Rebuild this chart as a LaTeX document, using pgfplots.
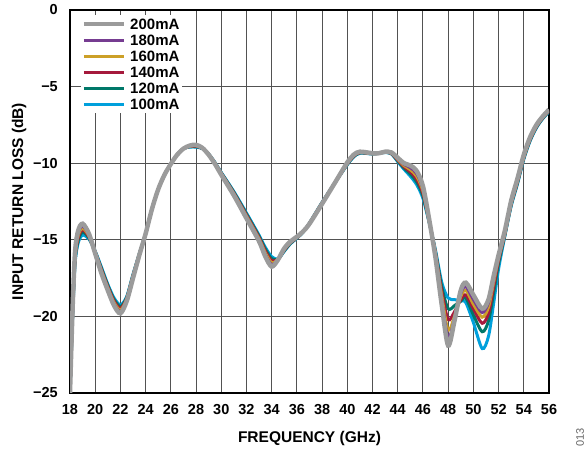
\documentclass[border=0pt]{standalone}
\usepackage{pgfplots}
\pgfplotsset{compat=1.18}
\usepackage{pgfplotstable}
\usepackage{fontspec}
\setmainfont{Liberation Sans}
\definecolor{c200}{RGB}{155,155,155}
\definecolor{c180}{RGB}{118,60,145}
\definecolor{c160}{RGB}{204,160,40}
\definecolor{c140}{RGB}{165,25,60}
\definecolor{c120}{RGB}{0,120,105}
\definecolor{c100}{RGB}{0,160,220}
\pgfplotstableread{
f a200 a180 a160 a140 a120 a100
18.0 -25 -25 -25 -25 -25 -25
18.2 -19.6 -19.72 -19.84 -19.96 -20.08 -20.2
18.4 -15.8 -15.96 -16.12 -16.28 -16.44 -16.6
18.65 -14.4 -14.56 -14.72 -14.88 -15.04 -15.2
19.0 -13.95 -14.1 -14.25 -14.35 -14.5 -14.7
19.5 -14.6 -14.67 -14.74 -14.81 -14.88 -14.95
20.0 -15.9 -15.87 -15.84 -15.81 -15.78 -15.75
20.5 -17.2 -17.12 -17.04 -16.96 -16.88 -16.8
21.0 -18.3 -18.22 -18.14 -18.06 -17.98 -17.9
21.5 -19.3 -19.2 -19.1 -19.0 -18.9 -18.8
22.0 -19.8 -19.69 -19.58 -19.47 -19.36 -19.25
22.5 -19.0 -18.94 -18.88 -18.82 -18.76 -18.7
23.0 -17.5 -17.45 -17.4 -17.35 -17.3 -17.25
23.5 -16.0 -15.98 -15.96 -15.94 -15.92 -15.9
24.0 -14.6 -14.6 -14.6 -14.6 -14.6 -14.6
24.5 -13.0 -13.0 -13.0 -13.0 -13.0 -13.0
25.0 -11.7 -11.7 -11.7 -11.7 -11.7 -11.7
25.5 -10.75 -10.75 -10.75 -10.75 -10.75 -10.75
26.0 -10.05 -10.05 -10.05 -10.05 -10.05 -10.05
26.5 -9.45 -9.45 -9.45 -9.45 -9.45 -9.45
27.0 -9.05 -9.05 -9.05 -9.05 -9.05 -9.05
27.5 -8.85 -8.87 -8.89 -8.91 -8.93 -8.95
28.0 -8.8 -8.83 -8.86 -8.89 -8.92 -8.95
28.5 -9.0 -9.01 -9.02 -9.03 -9.04 -9.05
29.0 -9.45 -9.44 -9.43 -9.42 -9.41 -9.4
29.5 -10.05 -10.03 -10.01 -9.99 -9.97 -9.95
30.0 -10.75 -10.72 -10.69 -10.66 -10.63 -10.6
31.0 -12.1 -12.05 -12.0 -11.95 -11.9 -11.85
32.0 -13.6 -13.53 -13.46 -13.39 -13.32 -13.25
33.0 -15.1 -15.02 -14.94 -14.86 -14.78 -14.7
33.5 -16.1 -15.98 -15.86 -15.74 -15.62 -15.5
34.0 -16.75 -16.62 -16.49 -16.36 -16.23 -16.1
34.5 -16.3 -16.29 -16.28 -16.27 -16.26 -16.25
35.0 -15.55 -15.59 -15.63 -15.67 -15.71 -15.75
35.5 -15.1 -15.13 -15.16 -15.19 -15.22 -15.25
36.0 -14.8 -14.82 -14.84 -14.86 -14.88 -14.9
36.5 -14.45 -14.46 -14.47 -14.48 -14.49 -14.5
37.0 -13.95 -13.94 -13.93 -13.92 -13.91 -13.9
38.0 -12.65 -12.63 -12.61 -12.59 -12.57 -12.55
39.0 -11.3 -11.3 -11.3 -11.3 -11.3 -11.3
40.0 -9.95 -9.98 -10.01 -10.04 -10.07 -10.1
40.5 -9.45 -9.48 -9.51 -9.54 -9.57 -9.6
41.0 -9.25 -9.27 -9.29 -9.31 -9.33 -9.35
42.0 -9.35 -9.36 -9.37 -9.38 -9.39 -9.4
42.5 -9.35 -9.35 -9.35 -9.35 -9.35 -9.35
43.0 -9.25 -9.26 -9.27 -9.28 -9.29 -9.3
43.5 -9.3 -9.32 -9.34 -9.36 -9.38 -9.4
44.0 -9.65 -9.7 -9.75 -9.8 -9.85 -9.9
44.5 -10.0 -10.08 -10.16 -10.24 -10.32 -10.4
45.0 -10.15 -10.29 -10.43 -10.57 -10.71 -10.85
45.5 -10.5 -10.68 -10.86 -11.04 -11.22 -11.4
46.0 -11.5 -11.66 -11.82 -11.98 -12.14 -12.3
46.5 -13.7 -13.74 -13.78 -13.82 -13.86 -13.9
47.0 -16.2 -16.1 -16.0 -15.9 -15.8 -15.7
47.5 -19.3 -19.0 -18.7 -18.4 -18.1 -17.8
48.0 -21.9 -21.4 -20.9 -20.2 -19.5 -18.8
48.5 -20.3 -20.2 -20.0 -19.7 -19.3 -18.9
49.0 -18.3 -18.5 -18.7 -18.9 -19.0 -19.0
49.4 -17.8 -18.05 -18.3 -18.6 -18.8 -19.1
50.0 -18.6 -18.9 -19.2 -19.5 -19.9 -20.4
50.7 -19.5 -19.75 -20.05 -20.45 -21.0 -22.1
51.2 -18.9 -19.1 -19.4 -19.8 -20.3 -21.3
51.6 -17.4 -17.6 -17.8 -18.1 -18.5 -19.2
52.0 -16.0 -16.1 -16.2 -16.35 -16.55 -16.9
52.5 -14.4 -14.47 -14.54 -14.61 -14.68 -14.75
53.0 -12.45 -12.52 -12.59 -12.66 -12.73 -12.8
53.5 -11.0 -11.07 -11.14 -11.21 -11.28 -11.35
54.0 -9.45 -9.51 -9.57 -9.63 -9.69 -9.75
54.5 -8.3 -8.35 -8.4 -8.45 -8.5 -8.55
55.0 -7.5 -7.54 -7.58 -7.62 -7.66 -7.7
55.5 -6.95 -6.98 -7.01 -7.04 -7.07 -7.1
56.0 -6.5 -6.53 -6.56 -6.59 -6.62 -6.65
}\data
\begin{document}
\begin{tikzpicture}
\path[use as bounding box] (0,0) rectangle (587bp,450bp);
\begin{axis}[
  at={(70bp,57bp)}, anchor=south west,
  scale only axis, width=479bp, height=383bp,
  xmin=18, xmax=56, ymin=-25, ymax=0,
  xtick={18,20,...,56},
  xticklabels={18,20,22,24,26,28,30,32,34,36,38,40,42,44,46,48,50,52,54,56},
  ytick={-25,-20,-15,-10,-5,0},
  yticklabels={−25,−20,−15,−10,−5,0},
  major tick length=0pt,
  grid=major,
  major grid style={black!68, line width=0.9bp},
  axis line style={black, line width=1.4bp},
  tick label style={font=\bfseries\fontsize{14.5bp}{16bp}\selectfont, inner sep=0pt},
  xticklabel style={anchor=north, yshift=-11bp},
  yticklabel style={anchor=east, xshift=-12bp},
  xlabel={FREQUENCY (GHz)},
  ylabel={INPUT RETURN LOSS (dB)},
  label style={font=\bfseries\fontsize{15.5bp}{17bp}\selectfont, inner sep=0pt},
  xlabel style={at={(axis description cs:0.5,-0.1305)}, anchor=base},
  ylabel style={at={(axis description cs:-0.0981,0.5)}, anchor=base, rotate=0},
  reverse legend,
  legend cell align=left,
  legend style={at={(axis description cs:0.022,0.987)}, anchor=north west,
    draw=none, fill=white, inner sep=1bp,
    font=\bfseries\fontsize{15bp}{16bp}\selectfont,
    nodes={text height=11bp, text depth=1bp, inner sep=2bp},
    column sep=2bp},
  legend image code/.code={\draw[#1] (0bp,0bp) -- (40bp,0bp);},
  every axis plot/.append style={smooth, no markers},
]
\addplot[c100, line width=3bp] table[x=f, y=a100] {\data};
\addplot[c120, line width=3bp] table[x=f, y=a120] {\data};
\addplot[c140, line width=3bp] table[x=f, y=a140] {\data};
\addplot[c160, line width=3bp] table[x=f, y=a160] {\data};
\addplot[c180, line width=3bp] table[x=f, y=a180] {\data};
\addplot[c200, line width=4.5bp] table[x=f, y=a200] {\data};
\legend{100mA,120mA,140mA,160mA,180mA,200mA}
\end{axis}
\node[rotate=90, text=black!60, font=\fontsize{11bp}{12bp}\selectfont, inner sep=0pt] at (580bp,12.5bp) {013};
\end{tikzpicture}
\end{document}
